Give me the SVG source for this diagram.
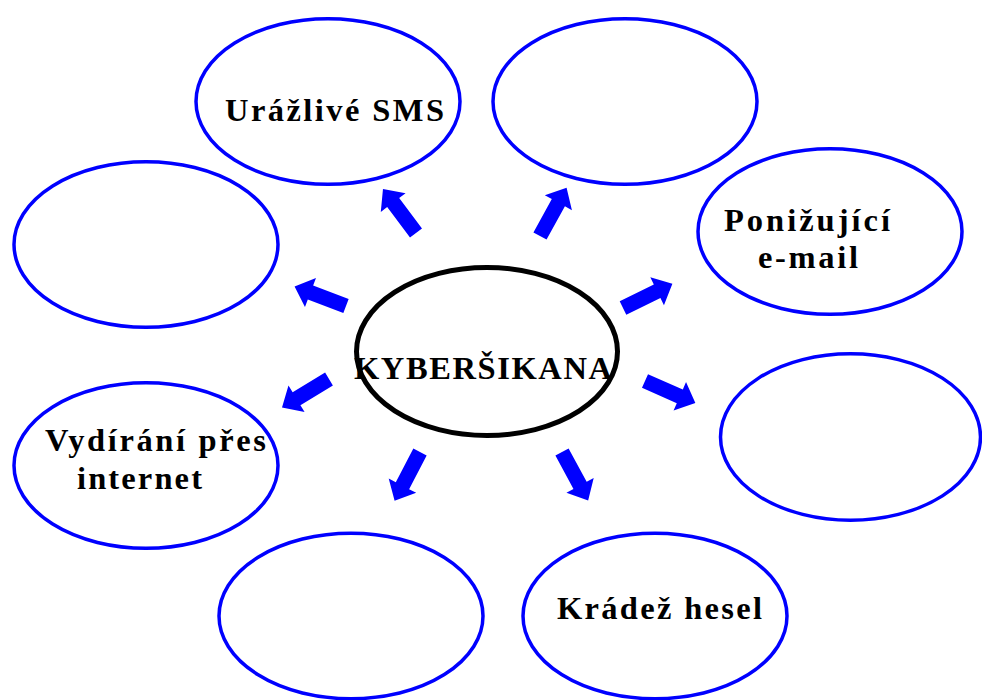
<svg xmlns="http://www.w3.org/2000/svg" xmlns:xlink="http://www.w3.org/1999/xlink" width="982" height="700" viewBox="0 0 982 700">
<style>
.n{fill:#fff;stroke:#0000ff;stroke-width:3.5}
.c{fill:none;stroke:#000;stroke-width:5}
.t{font-family:"Liberation Serif","Times New Roman",serif;font-weight:bold;font-size:32.5px;fill:#000}
.a{fill:#0000ff}
</style>
<defs>
<polygon id="arr" points="0,-7.5 38,-7.5 38,-15.5 55,0 38,15.5 38,7.5 0,7.5"/>
</defs>
<rect width="982" height="700" fill="#fff"/>
<g id="connectors" class="a">
<use xlink:href="#arr" transform="translate(416,233) rotate(-126.9)"/>
<use xlink:href="#arr" transform="translate(540,236) rotate(-61.1)"/>
<use xlink:href="#arr" transform="translate(346,306) rotate(-159.2)"/>
<use xlink:href="#arr" transform="translate(329,379) rotate(148.7)"/>
<use xlink:href="#arr" transform="translate(623,308) rotate(-26.1)"/>
<use xlink:href="#arr" transform="translate(645,381) rotate(23.7)"/>
<use xlink:href="#arr" transform="translate(420,452) rotate(117.5)"/>
<use xlink:href="#arr" transform="translate(562,452) rotate(61.6)"/>
</g>
<g id="center">
<ellipse class="c" cx="487" cy="351.5" rx="130.5" ry="84"/>
<text class="t" x="354" y="379" textLength="258" lengthAdjust="spacing">KYBERŠIKANA</text>
</g>
<g id="n1">
<ellipse class="n" cx="328" cy="101.5" rx="132" ry="82.75"/>
<text class="t" x="225" y="121" textLength="219" lengthAdjust="spacing">Urážlivé SMS</text>
</g>
<g id="n2">
<ellipse class="n" cx="625" cy="101.5" rx="132" ry="82.75"/>
</g>
<g id="n3">
<ellipse class="n" cx="146" cy="244.5" rx="132" ry="82.75"/>
</g>
<g id="n4">
<ellipse class="n" cx="830" cy="231.5" rx="132" ry="82.75"/>
<text class="t" x="724" y="231" textLength="166" lengthAdjust="spacing">Ponižující</text>
<text class="t" x="758" y="268" textLength="100" lengthAdjust="spacing">e-mail</text>
</g>
<g id="n5">
<ellipse class="n" cx="850.5" cy="437" rx="130" ry="83.25"/>
</g>
<g id="n6">
<ellipse class="n" cx="146" cy="465.5" rx="132" ry="82.75"/>
<text class="t" x="45" y="451" textLength="221" lengthAdjust="spacing">Vydírání přes</text>
<text class="t" x="77" y="489" textLength="125" lengthAdjust="spacing">internet</text>
</g>
<g id="n7">
<ellipse class="n" cx="351" cy="616" rx="132" ry="82.75"/>
</g>
<g id="n8">
<ellipse class="n" cx="655" cy="616" rx="132" ry="82.75"/>
<text class="t" x="557" y="619" textLength="205" lengthAdjust="spacing">Krádež hesel</text>
</g>
</svg>
